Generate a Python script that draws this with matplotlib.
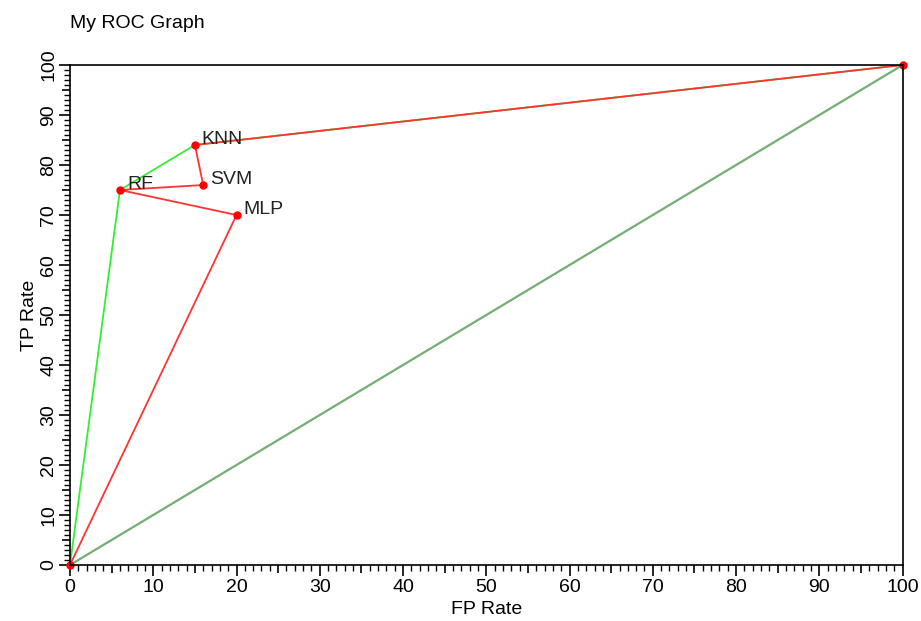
import matplotlib
matplotlib.use("Agg")
import matplotlib.pyplot as plt
from matplotlib.ticker import MultipleLocator, FuncFormatter

plt.rcParams['font.family'] = ['Liberation Sans', 'DejaVu Sans']

# classifier points (FP rate, TP rate)
names = ["KNN", "RF", "SVM", "MLP"]
fp = [15.0, 6.0, 16.0, 20.0]
tp = [84.0, 75.0, 76.0, 70.0]

# curves
red_x = [0, 20.0, 6.0, 16.0, 15.0, 100]
red_y = [0, 70.0, 75.0, 76.0, 84.0, 100]
green_x = [0, 6.0, 15.0, 100]
green_y = [0, 75.0, 84.0, 100]
diag = [0, 100]

fig = plt.figure(figsize=(9.21, 6.21), dpi=100)
ax = fig.add_axes([0.076, 0.0902, 0.904, 0.8051])

ax.plot(diag, diag, color="#5aa05a", lw=1.6, alpha=0.85)
ax.plot(green_x, green_y, color="#33ee33", lw=1.3)
ax.plot(red_x, red_y, color="#ff3333", lw=1.3)
ax.plot(red_x, red_y, "o", color="red", ms=5, clip_on=False)

for n, x, y in zip(names, fp, tp):
    ax.annotate(n, (x, y), xytext=(5, 0.5), textcoords="offset points",
                fontsize=14, color="#222222")

ax.set_xlim(0, 100)
ax.set_ylim(0, 100)
lab = FuncFormatter(lambda v, p: "%d" % v if round(v) % 10 == 0 else "")
for axis in (ax.xaxis, ax.yaxis):
    axis.set_major_locator(MultipleLocator(5))
    axis.set_minor_locator(MultipleLocator(1))
    axis.set_major_formatter(lab)
ax.tick_params(which="major", direction="out", length=8, width=1.2, labelsize=14, pad=2)
ax.tick_params(axis="y", which="major", pad=1)
ax.tick_params(which="minor", direction="out", length=4, width=1)
for axis in (ax.xaxis, ax.yaxis):
    for t, v in zip(axis.get_major_ticks(), axis.get_majorticklocs()):
        if round(v) % 10 != 0:
            t.tick1line.set_markersize(6)
for lbl in ax.get_yticklabels():
    lbl.set_rotation(90)
    lbl.set_va("center")
for s in ax.spines.values():
    s.set_linewidth(1.2)

ax.set_xlabel("FP Rate", fontsize=14, labelpad=4)
ax.set_ylabel("TP Rate", fontsize=14, labelpad=2)
fig.text(0.076, 0.962, "My ROC Graph", fontsize=14, va="center", ha="left")

fig.savefig("out.png", dpi=100)
